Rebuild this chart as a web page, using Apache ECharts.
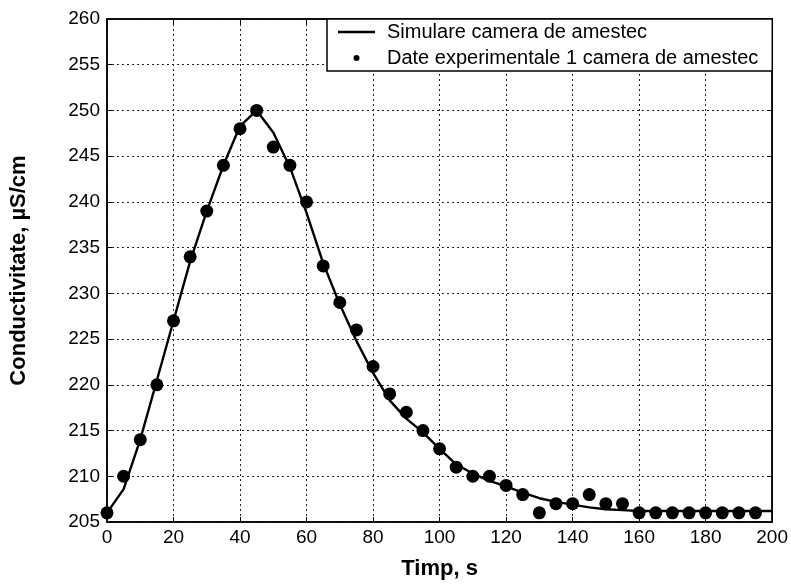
<!DOCTYPE html>
<html>
<head>
<meta charset="utf-8">
<script src="https://cdn.jsdelivr.net/npm/echarts@6/dist/echarts.min.js"></script>
<style>html,body{margin:0;padding:0;background:#fff}#chart{width:791px;height:585px}</style>
</head>
<body>
<div id="chart"></div>
<script>
const seriesNames = ['Simulare camera de amestec', 'Date experimentale 1 camera de amestec'];
const simTime = [0,5,10,15,20,25,30,35,40,45,50,55,60,65,70,75,80,85,90,95,100,105,110,115,120,125,130,135,140,145,150,155,160,165,170,175,180,185,190,195,200];
const simValues = [206,208.6,214,220.5,227,233.5,239,244,248.3,250,247.6,243.8,238.8,233.3,228.8,224.8,221.3,218.3,216.3,214.8,213,211.3,210.3,209.5,208.9,208.2,207.6,207.2,206.9,206.6,206.4,206.3,206.2,206.2,206.2,206.2,206.2,206.2,206.2,206.2,206.2];
const expTime = [0,5,10,15,20,25,30,35,40,45,50,55,60,65,70,75,80,85,90,95,100,105,110,115,120,125,130,135,140,145,150,155,160,165,170,175,180,185,190,195];
const expValues = [206,210,214,220,227,234,239,244,248,250,246,244,240,233,229,226,222,219,217,215,213,211,210,210,209,208,206,207,207,208,207,207,206,206,206,206,206,206,206,206];
const xLabelTitle = 'Timp, s';
const yLabelTitle = 'Conductivitate, \u00b5S/cm';

const chart = echarts.init(document.getElementById('chart'), null, {renderer: 'canvas'});
const font = 'Liberation Sans, Arial, sans-serif';
const gridLine = {show: true, lineStyle: {color: '#222', width: 1, type: [2, 3]}};
chart.setOption({
  animation: false,
  backgroundColor: '#fff',
  grid: {left: 107, right: 17, top: 19, bottom: 63, show: true, borderColor: '#000', borderWidth: 1.5, backgroundColor: 'transparent'},
  legend: {
    orient: 'vertical', left: 327, top: 19,
    backgroundColor: '#fff', borderColor: '#000', borderWidth: 1.5, borderRadius: 0,
    padding: [3, 14, 3, 11], itemGap: 6, itemWidth: 37, itemHeight: 6,
    textStyle: {fontFamily: font, fontSize: 20, color: '#000', padding: [0, 0, 0, 7]},
    data: [
      {name: seriesNames[0], icon: 'path://M0 0 L37 0 L37 2.5 L0 2.5 Z', itemStyle: {color: '#000'}},
      {name: seriesNames[1], icon: 'circle', itemStyle: {color: '#000'}}
    ]
  },
  xAxis: [{
    type: 'value', min: 0, max: 200, interval: 20,
    name: xLabelTitle, nameLocation: 'middle', nameGap: 36,
    nameTextStyle: {fontFamily: font, fontSize: 22, fontWeight: 'bold', color: '#000'},
    axisLine: {show: true, onZero: false, lineStyle: {color: '#000', width: 1.5}},
    axisTick: {show: true, inside: true, length: 5, lineStyle: {color: '#000'}},
    axisLabel: {fontFamily: font, fontSize: 19, color: '#000', margin: 6},
    splitLine: gridLine
  }, {
    type: 'value', position: 'top', min: 0, max: 200, interval: 20,
    axisLine: {show: true, onZero: false, lineStyle: {color: '#000', width: 1.5}},
    axisTick: {show: true, inside: true, length: 5, lineStyle: {color: '#000'}},
    axisLabel: {show: false}, splitLine: {show: false}
  }],
  yAxis: [{
    type: 'value', min: 205, max: 260, interval: 5,
    name: yLabelTitle, nameLocation: 'middle', nameGap: 77,
    nameTextStyle: {fontFamily: font, fontSize: 22, fontWeight: 'bold', color: '#000'},
    axisLine: {show: true, onZero: false, lineStyle: {color: '#000', width: 1.5}},
    axisTick: {show: true, inside: true, length: 5, lineStyle: {color: '#000'}},
    axisLabel: {fontFamily: font, fontSize: 19, color: '#000', margin: 7},
    splitLine: gridLine
  }, {
    type: 'value', position: 'right', min: 205, max: 260, interval: 5,
    axisLine: {show: true, onZero: false, lineStyle: {color: '#000', width: 1.5}},
    axisTick: {show: true, inside: true, length: 5, lineStyle: {color: '#000'}},
    axisLabel: {show: false}, splitLine: {show: false}
  }],
  series: [{
    name: seriesNames[0], type: 'line', symbol: 'none', z: 3,
    lineStyle: {color: '#000', width: 2.4}, itemStyle: {color: '#000'},
    data: simTime.map((t, i) => [t, simValues[i]])
  }, {
    name: seriesNames[1], type: 'scatter', symbol: 'circle', symbolSize: 13, z: 4,
    itemStyle: {color: '#000', opacity: 1},
    data: expTime.map((t, i) => [t, expValues[i]])
  }]
});
</script>
</body>
</html>
